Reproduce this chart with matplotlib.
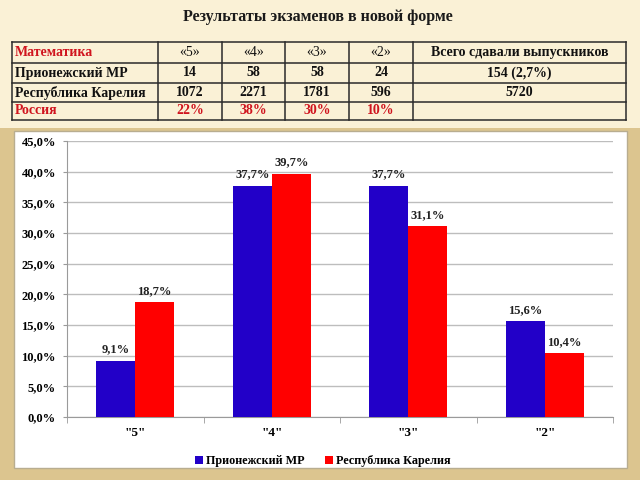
import matplotlib
matplotlib.use("Agg")
import matplotlib.pyplot as plt
from matplotlib.patches import Rectangle
from matplotlib.ticker import FuncFormatter, MultipleLocator
import numpy as np

# ---- data ----
title = "Результаты экзаменов в новой форме"
table_header = ["Математика", "«5»", "«4»", "«3»", "«2»", "Всего сдавали выпускников"]
table_rows = [
    ["Прионежский МР", "14", "58", "58", "24", "154 (2,7%)"],
    ["Республика Карелия", "1072", "2271", "1781", "596", "5720"],
    ["Россия", "22%", "38%", "30%", "10%", ""],
]
categories = ['"5"', '"4"', '"3"', '"2"']
series_names = ["Прионежский МР", "Республика Карелия"]
prionezh = [9.1, 37.7, 37.7, 15.6]
karelia = [18.7, 39.7, 31.1, 10.4]

FONT = "Liberation Serif"
BLUE = "#2200c8"
RED = "#ff0000"
TRED = "#d0141e"

fig = plt.figure(figsize=(6.4, 4.8), dpi=100)
fig.patch.set_facecolor("#faf1d6")

# overlay axes in pixel coords
bg = fig.add_axes([0, 0, 1, 1])
bg.set_xlim(0, 640)
bg.set_ylim(480, 0)
bg.axis("off")

# golden frame around chart panel
bg.add_patch(Rectangle((0, 128), 640, 352, facecolor="#dcc58f", edgecolor="none"))
bg.add_patch(Rectangle((14, 131), 613, 337, facecolor="white", edgecolor="#b8ad90", lw=1))

# title
bg.text(318, 17, title, ha="center", va="center", fontsize=11.5, fontweight="bold",
        family=FONT, color="#1a1a1a")

# table
col_x = [12, 158, 222, 285, 349, 413, 626]
row_y = [42, 63, 83, 102, 120]
for y in row_y:
    bg.plot([col_x[0], col_x[-1]], [y, y], color="#2a2a2a", lw=1.1)
for x in col_x:
    bg.plot([x, x], [row_y[0], row_y[-1]], color="#2a2a2a", lw=1.1)

all_rows = [table_header] + table_rows
for r, row in enumerate(all_rows):
    yc = (row_y[r] + row_y[r + 1]) / 2
    for c, txt in enumerate(row):
        if c == 0:
            color = TRED if r in (0, 3) else "#111111"
            bg.text(col_x[0] + 3, yc, txt, ha="left", va="center", fontsize=10,
                    fontweight="bold", family=FONT, color=color)
        else:
            xc = (col_x[c] + col_x[c + 1]) / 2
            color = TRED if r == 3 else "#111111"
            weight = "normal" if (r == 0 and c < 5) else "bold"
            bg.text(xc, yc, txt, ha="center", va="center", fontsize=10,
                    fontweight=weight, family=FONT, color=color)

# chart axes
x0, x1 = 67, 613
y0, y1 = 417, 141
ax = fig.add_axes([x0 / 640, (480 - y0) / 480, (x1 - x0) / 640, (y0 - y1) / 480])
ax.set_facecolor("white")
x = np.arange(len(categories))
w = 0.285
b1 = ax.bar(x - w / 2, prionezh, w, color=BLUE, label=series_names[0], zorder=3)
b2 = ax.bar(x + w / 2, karelia, w, color=RED, label=series_names[1], zorder=3)
ax.set_xlim(-0.5, len(categories) - 0.5)
ax.set_ylim(0, 45)
ax.yaxis.set_major_locator(MultipleLocator(5))
ax.yaxis.set_major_formatter(FuncFormatter(lambda v, p: f"{v:.1f}%".replace(".", ",")))
ax.grid(axis="y", color="#bdbdbd", lw=1, zorder=0)
for s in ["top", "right"]:
    ax.spines[s].set_visible(False)
for s in ["left", "bottom"]:
    ax.spines[s].set_color("#9a9a9a")
ax.set_xticks(x)
ax.set_xticklabels(categories)
ax.set_xticks(np.arange(-0.5, len(categories)), minor=True)
ax.tick_params(axis="x", which="major", length=0, pad=7)
ax.tick_params(axis="x", which="minor", length=4, color="#9a9a9a")
ax.tick_params(axis="y", length=3, color="#9a9a9a", pad=5)
for lab in ax.get_xticklabels():
    lab.set_family(FONT); lab.set_fontweight("bold"); lab.set_fontsize(9.5)
for lab in ax.get_yticklabels():
    lab.set_family(FONT); lab.set_fontweight("bold"); lab.set_fontsize(9)

for bars, vals in ((b1, prionezh), (b2, karelia)):
    for rect, v in zip(bars, vals):
        ax.annotate(f"{v:.1f}%".replace(".", ","),
                    (rect.get_x() + rect.get_width() / 2, v),
                    xytext=(0, 4), textcoords="offset points", ha="center", va="bottom",
                    fontsize=9, fontweight="bold", family=FONT, color="#222222")

leg = ax.legend(loc="upper center", bbox_to_anchor=(0.469, -0.1), ncol=2, frameon=False,
                prop={"family": FONT, "weight": "bold", "size": 8.7},
                handlelength=0.6, handleheight=0.6, handletextpad=0.3, columnspacing=1.7)

fig.savefig("out.png", dpi=100, facecolor=fig.get_facecolor())
